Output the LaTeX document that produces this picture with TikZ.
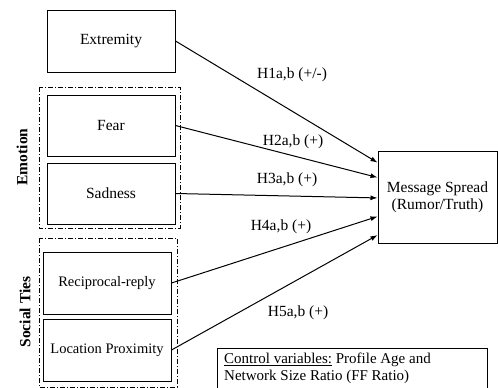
\documentclass[tikz,border=0pt]{standalone}
\usepackage{fontspec}
\setmainfont{Liberation Serif}
\usetikzlibrary{arrows.meta,calc}
\begin{document}
\begin{tikzpicture}[x=1pt,y=-1pt,
 box/.style={draw,line width=1pt,inner sep=0pt,align=center,font=\fontsize{15.5}{17}\selectfont},
 sbox/.style={box,font=\fontsize{14.5}{17}\selectfont},
 grp/.style={draw,line width=0.8pt,dash pattern=on 5pt off 2pt on 1pt off 2pt},
 arr/.style={line width=1pt,-{Latex[length=7pt,width=5pt]}},
 lbl/.style={font=\fontsize{15.5}{17}\selectfont,inner sep=0pt},
 grplbl/.style={font=\bfseries\fontsize{15.5}{17}\selectfont,rotate=90,inner sep=0pt}]
\useasboundingbox (0,0) rectangle (498,388);
% group frames
\draw[grp] (39,87) rectangle (180,228);
\draw[grp] (39,238) rectangle (177,387);
\node[grplbl] (emo) at (22,157) {Emotion};
\node[grplbl] (soc) at (25,312) {Social Ties};
% boxes
\node[box,minimum width=128pt,minimum height=62pt] (ext) at (111,41) {Extremity};
\node[box,minimum width=128pt,minimum height=61pt] (fear) at (111,125.5) {Fear};
\node[box,minimum width=128pt,minimum height=61pt] (sad) at (111,193.5) {Sadness};
\node[sbox,minimum width=128pt,minimum height=62pt] (rec) at (107,283) {Reciprocal-reply};
\node[sbox,minimum width=128pt,minimum height=62pt] (loc) at (107,350) {Location Proximity};
\node[box,minimum width=119pt,minimum height=92pt] (ms) at (437.5,197) {Message Spread\\(Rumor/Truth)};
% control box
\draw[line width=1pt] (217,348) rectangle (487,394);
\node[lbl,anchor=north west,align=left,font=\fontsize{15}{17}\selectfont] (ctl) at (224,353)
  {\underline{Control variables:} Profile Age and\\Network Size Ratio (FF Ratio)};
% arrows
\draw[arr] (ext.east) -- ($(ms.north west)!0.13!(ms.south west)$);
\draw[arr] (fear.east) -- ($(ms.north west)!0.29!(ms.south west)$);
\draw[arr] (sad.east) -- ($(ms.north west)!0.51!(ms.south west)$);
\draw[arr] (rec.east) -- ($(ms.north west)!0.71!(ms.south west)$);
\draw[arr] (loc.east) -- ($(ms.north west)!0.91!(ms.south west)$);
% labels
\node[lbl] (h1) at (292,75) {H1a,b (+/-)};
\node[lbl] (h2) at (293,142) {H2a,b (+)};
\node[lbl] (h3) at (287,180) {H3a,b (+)};
\node[lbl] (h4) at (281,227) {H4a,b (+)};
\node[lbl] (h5) at (298,313) {H5a,b (+)};
\end{tikzpicture}
\end{document}
